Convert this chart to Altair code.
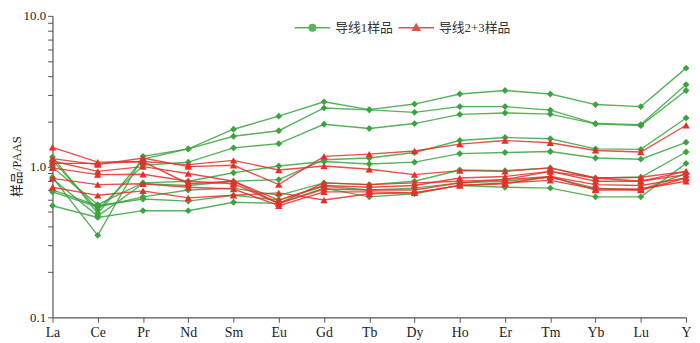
import altair as alt
import pandas as pd

elements = ["La", "Ce", "Pr", "Nd", "Sm", "Eu", "Gd", "Tb", "Dy", "Ho", "Er", "Tm", "Yb", "Lu", "Y"]
groups = ["导线1样品", "导线2+3样品"]

# 导线1样品 (green)
g1 = [0.85, 0.35, 1.17, 1.31, 1.77, 2.16, 2.69, 2.39, 2.60, 3.03, 3.20, 3.03, 2.58, 2.50, 4.50]
g2 = [1.16, 0.49, 1.12, 1.31, 1.59, 1.73, 2.45, 2.38, 2.29, 2.50, 2.50, 2.37, 1.93, 1.90, 3.50]
g3 = [1.10, 0.52, 1.02, 1.07, 1.33, 1.42, 1.91, 1.79, 1.93, 2.22, 2.27, 2.23, 1.92, 1.87, 3.20]
g4 = [0.99, 0.56, 0.78, 0.80, 0.91, 1.01, 1.08, 1.04, 1.07, 1.22, 1.24, 1.26, 1.14, 1.12, 1.45]
g5 = [0.83, 0.47, 0.77, 0.75, 0.80, 0.82, 1.11, 1.14, 1.24, 1.49, 1.56, 1.53, 1.31, 1.30, 2.10]
g6 = [0.68, 0.54, 0.63, 0.70, 0.72, 0.645, 0.78, 0.76, 0.80, 0.95, 0.94, 0.98, 0.84, 0.85, 1.25]
g7 = [0.55, 0.46, 0.51, 0.51, 0.58, 0.57, 0.72, 0.63, 0.66, 0.75, 0.73, 0.72, 0.63, 0.63, 1.05]
g8 = [0.70, 0.55, 0.61, 0.59, 0.645, 0.60, 0.74, 0.70, 0.72, 0.78, 0.80, 0.85, 0.72, 0.70, 0.90]
green_series = [g1, g2, g3, g4, g5, g6, g7, g8]

# 导线2+3样品 (red)
r1 = [1.34, 1.07, 1.08, 1.03, 1.10, 0.95, 1.01, 0.96, 0.885, 0.94, 0.93, 0.98, 0.84, 0.85, 0.93]
r2 = [1.13, 1.03, 1.14, 1.00, 1.02, 0.76, 1.17, 1.21, 1.27, 1.41, 1.49, 1.44, 1.28, 1.25, 1.88]
r3 = [1.09, 0.93, 1.00, 0.90, 0.80, 0.60, 0.75, 0.73, 0.75, 0.84, 0.86, 0.93, 0.80, 0.80, 0.885]
r4 = [0.98, 0.885, 0.89, 0.80, 0.77, 0.57, 0.71, 0.70, 0.70, 0.78, 0.82, 0.86, 0.76, 0.75, 0.84]
r5 = [0.835, 0.76, 0.77, 0.73, 0.71, 0.55, 0.68, 0.68, 0.67, 0.75, 0.78, 0.81, 0.71, 0.71, 0.80]
r6 = [0.73, 0.645, 0.69, 0.62, 0.645, 0.67, 0.60, 0.66, 0.67, 0.75, 0.77, 0.86, 0.70, 0.70, 0.84]
r7 = [1.05, 1.05, 1.08, 0.77, 0.80, 0.57, 0.78, 0.76, 0.78, 0.80, 0.82, 0.93, 0.84, 0.80, 0.93]
red_series = [r1, r2, r3, r4, r5, r6, r7]

y_ticks = [0.1, 0.2, 0.3, 0.4, 0.5, 0.6, 0.7, 0.8, 0.9,
           1, 2, 3, 4, 5, 6, 7, 8, 9, 10]

GREEN = "#3aa53f"
RED = "#e5302a"

rows = []
for gname, series_list, prefix in [(groups[0], green_series, "G"), (groups[1], red_series, "R")]:
    for i, s in enumerate(series_list):
        for el, v in zip(elements, s):
            rows.append({"sample": f"{prefix}{i+1}", "group": gname, "element": el, "value": v})
df = pd.DataFrame(rows)

SERIF = "Liberation Serif, Noto Sans CJK SC"

color_scale = alt.Scale(domain=groups, range=[GREEN, RED])
x_enc = alt.X("element:N", sort=elements,
              scale=alt.Scale(type="point", padding=0),
              axis=alt.Axis(title=None, labelAngle=0, labelFont=SERIF, labelFontSize=14,
                            labelColor="#222", tickSize=5, tickColor="#555",
                            domainColor="#555", domainWidth=1.2, labelPadding=3))
y_enc = alt.Y("value:Q",
              scale=alt.Scale(type="log", domain=[0.1, 10], nice=False),
              axis=alt.Axis(title="样品/PAAS", values=y_ticks,
                            labelExpr="(datum.value == 0.1 || datum.value == 1 || datum.value == 10) ? format(datum.value, '.1f') : ''",
                            labelFont=SERIF, labelFontSize=13, labelColor="#222",
                            titleFont=SERIF, titleFontSize=13, titleFontWeight="normal",
                            titleColor="#222", titleX=-36, titleY=152, titleAngle=-90,
                            titleAlign="center", titleBaseline="middle",
                            tickSize=5, tickColor="#555",
                            domainColor="#555", domainWidth=1.2, grid=False))

circle_line = "M-3,0H3M0.55,0A0.55,0.55,0,1,1,-0.55,0A0.55,0.55,0,1,1,0.55,0"
tri_line = "M-3,0H3M0,-0.6L0.6,0.45L-0.6,0.45Z"

legend = alt.Legend(title=None, orient="none", direction="horizontal",
                    legendX=256, legendY=5, symbolSize=144, symbolStrokeWidth=1.4,
                    labelFont=SERIF, labelFontSize=13, labelColor="#333",
                    labelOffset=16, columnPadding=2)

base = alt.Chart(df)

green_df = base.transform_filter(alt.datum.group == groups[0])
red_df = base.transform_filter(alt.datum.group == groups[1])

line_kw = dict(strokeWidth=1.4, opacity=0.85)
color_enc = alt.Color("group:N", scale=color_scale, legend=legend)

green_lines = green_df.mark_line(**line_kw).encode(
    x=x_enc, y=y_enc, detail="sample:N", color=color_enc)
green_pts = green_df.mark_point(filled=True, shape="diamond", size=48, opacity=1).encode(
    x=x_enc, y=y_enc, color=color_enc)
red_lines = red_df.mark_line(**line_kw).encode(
    x=x_enc, y=y_enc, detail="sample:N", color=color_enc)
red_pts = red_df.mark_point(filled=True, shape="triangle-up", size=55, opacity=1).encode(
    x=x_enc, y=y_enc, color=color_enc)

legend_layer = base.transform_filter("false").mark_point(filled=True, opacity=1).encode(
    color=color_enc,
    shape=alt.Shape("group:N", scale=alt.Scale(domain=groups, range=[circle_line, tri_line]),
                    legend=legend))

chart = alt.layer(green_lines, green_pts, red_lines, red_pts, legend_layer).properties(
    width=641, height=305,
    autosize=alt.AutoSizeParams(type="none"),
    padding={"left": 45, "top": 6, "right": 6, "bottom": 24},
).configure_view(stroke=None).configure_axis(grid=False)

chart.save("out.html", embed_options={"renderer": "svg", "actions": False})
